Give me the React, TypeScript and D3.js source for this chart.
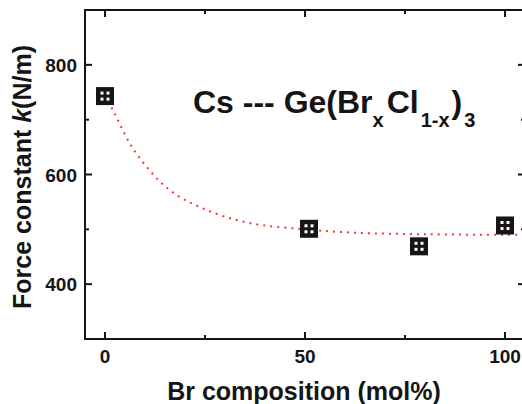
import React from "react";
import * as d3 from "d3";

// measured points
const brMol = [0, 51, 78.5, 100];
const forceK = [743, 501, 469, 507];

// fitted decay curve
const fitX = [0, 2.4, 7.4, 15.75, 24.5, 35.75, 50, 62, 80, 100, 105];
const fitY = [745, 711, 643, 574, 538, 512, 500, 494, 491, 490, 490];

const xMajor = [0, 50, 100];
const xMinor = [25, 75];
const yMajor = [400, 600, 800];
const yMinor = [300, 500, 700, 900];

const W = 522;
const H = 404;
const left = 85, right = 525, top = 10, bottom = 339;
const font = "'Liberation Sans', Arial, sans-serif";

export default function App() {
  const x = d3.scaleLinear().domain([-5, 105]).range([left, right]);
  const y = d3.scaleLinear().domain([300, 900]).range([bottom, top]);

  const fit = d3.line<number>()
    .x((d, i) => x(fitX[i]))
    .y(d => y(d))
    .curve(d3.curveCatmullRom)(fitY) || "";

  const ink = "#151515";

  return (
    <svg width={W} height={H} style={{ position: "absolute", left: 0, top: 0 }}>
      <rect width={W} height={H} fill="#fff" />

      {/* ticks, pointing inwards on all four sides */}
      <g stroke={ink} strokeWidth={2}>
        {xMajor.map(v => (
          <g key={"xM" + v}>
            <line x1={x(v)} x2={x(v)} y1={bottom} y2={bottom - 7} />
            <line x1={x(v)} x2={x(v)} y1={top} y2={top + 7} />
          </g>
        ))}
        {xMinor.map(v => (
          <g key={"xm" + v}>
            <line x1={x(v)} x2={x(v)} y1={bottom} y2={bottom - 4} />
            <line x1={x(v)} x2={x(v)} y1={top} y2={top + 4} />
          </g>
        ))}
        {yMajor.map(v => (
          <g key={"yM" + v}>
            <line x1={left} x2={left + 7} y1={y(v)} y2={y(v)} />
            <line x1={right} x2={right - 7} y1={y(v)} y2={y(v)} />
          </g>
        ))}
        {yMinor.map(v => (
          <g key={"ym" + v}>
            <line x1={left} x2={left + 4} y1={y(v)} y2={y(v)} />
            <line x1={right} x2={right - 4} y1={y(v)} y2={y(v)} />
          </g>
        ))}
      </g>

      <rect x={left} y={top} width={right - left} height={bottom - top}
        fill="none" stroke={ink} strokeWidth={2} />

      <path d={fit} fill="none" stroke="#ec3b32" strokeWidth={2}
        strokeDasharray="2 5" />

      {brMol.map((v, i) => {
        const cx = x(v), cy = y(forceK[i]);
        return (
          <g key={"p" + i}>
            <rect x={cx - 9} y={cy - 9} width={18} height={18} fill={ink} />
            {[[-4.5, -4.5], [1.5, -4.5], [-4.5, 1.5], [1.5, 1.5]].map(([dx, dy], j) => (
              <rect key={j} x={cx + dx} y={cy + dy} width={3} height={3} fill="#fff" />
            ))}
          </g>
        );
      })}

      <g fontFamily={font} fontWeight="bold" fill={ink} fontSize={19}>
        {xMajor.map(v => (
          <text key={"xl" + v} x={x(v)} y={363} textAnchor="middle">{v}</text>
        ))}
        {yMajor.map(v => (
          <text key={"yl" + v} x={77} y={y(v) + 7} textAnchor="end">{v}</text>
        ))}
      </g>

      <text x={304} y={400} textAnchor="middle" fontFamily={font}
        fontWeight="bold" fontSize={25} fill={ink}>Br composition (mol%)</text>

      <text transform="translate(31,177) rotate(-90)" textAnchor="middle"
        fontFamily={font} fontWeight="bold" fontSize={25} fill={ink}>
        Force constant <tspan fontStyle="italic">k</tspan>(N/m)
      </text>

      <text x={193} y={113} fontFamily={font} fontWeight="bold" fontSize={32} fill={ink}>
        Cs --- Ge(Br
        <tspan dy={14} fontSize={20}>x</tspan>
        <tspan dx={3} dy={-14}>Cl</tspan>
        <tspan dx={2} dy={14} fontSize={20}>1-x</tspan>
        <tspan dx={2} dy={-14}>)</tspan>
        <tspan dx={2} dy={14} fontSize={20}>3</tspan>
      </text>
    </svg>
  );
}
